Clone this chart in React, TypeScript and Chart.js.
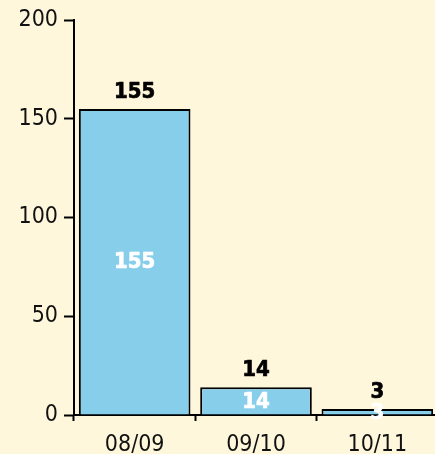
import React, { useEffect, useRef } from "react";
import { Chart, registerables } from "chart.js";

Chart.register(...registerables);

const categories = ["08/09", "09/10", "10/11"];
const values = [155, 14, 3];
const yTicks = [0, 50, 100, 150, 200];

const FONT = "'DejaVu Sans Condensed', 'DejaVu Sans', sans-serif";
const BG = "#FFF7DC";

const labelPlugin = {
  id: "valueLabels",
  afterDatasetsDraw(chart: any) {
    const ctx = chart.ctx;
    const meta = chart.getDatasetMeta(0);
    ctx.save();
    ctx.font = `bold 22px ${FONT}`;
    ctx.textAlign = "center";
    ctx.textBaseline = "middle";
    ctx.lineWidth = 0.7;
    ctx.lineJoin = "round";
    meta.data.forEach((bar: any, i: number) => {
      const v = String(values[i]);
      const ty = bar.y - 17;
      ctx.fillStyle = "#000";
      ctx.strokeStyle = "#000";
      ctx.fillText(v, bar.x, ty);
      ctx.strokeText(v, bar.x, ty);
      const cy = (bar.y + bar.base) / 2 + 1;
      ctx.fillStyle = "#fff";
      ctx.strokeStyle = "#fff";
      ctx.fillText(v, bar.x, cy);
      ctx.strokeText(v, bar.x, cy);
    });
    ctx.restore();
  },
};

export default function App() {
  const ref = useRef<HTMLCanvasElement>(null);
  useEffect(() => {
    document.body.style.margin = "0";
    document.body.style.background = BG;
    document.body.style.overflow = "hidden";
    const chart = new Chart(ref.current!, {
      type: "bar",
      data: {
        labels: categories,
        datasets: [
          {
            data: values,
            backgroundColor: "#87CEEB",
            borderColor: "#000",
            borderWidth: 2,
            categoryPercentage: 1,
            barPercentage: 0.92,
          },
        ],
      },
      options: {
        responsive: false,
        animation: false,
        devicePixelRatio: 1,
        layout: { padding: { top: 20, right: 2, left: 0, bottom: 0 } },
        plugins: { legend: { display: false }, tooltip: { enabled: false } },
        scales: {
          x: {
            offset: true,
            afterFit: (s: any) => {
              s.height = 39;
            },
            grid: {
              offset: true,
              drawOnChartArea: false,
              drawTicks: true,
              tickLength: 6,
              tickWidth: 2,
              tickColor: "#000",
            },
            border: { color: "#000", width: 2 },
            ticks: { color: "#111", font: { family: FONT, size: 23 }, padding: 10 },
          },
          y: {
            min: 0,
            max: 200,
            afterFit: (s: any) => {
              s.width = 74;
            },
            afterBuildTicks: (s: any) => {
              s.ticks = yTicks.map((v) => ({ value: v }));
            },
            grid: {
              drawOnChartArea: false,
              tickLength: 10,
              tickWidth: 2,
              tickColor: "#000",
            },
            border: { color: "#000", width: 2 },
            ticks: { color: "#111", font: { family: FONT, size: 23 }, padding: 6 },
          },
        },
      },
      plugins: [labelPlugin],
    });
    return () => chart.destroy();
  }, []);
  return (
    <div style={{ position: "fixed", left: 0, top: 0, background: BG }}>
      <canvas ref={ref} width={440} height={454} style={{ display: "block" }} />
    </div>
  );
}
